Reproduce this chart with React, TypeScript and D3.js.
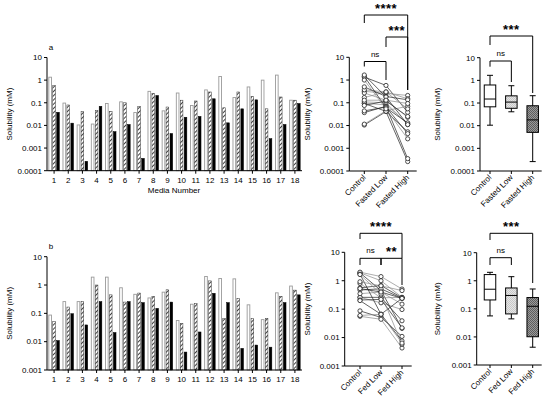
import * as d3 from 'd3';
import { useEffect, useRef } from 'react';

/* ================= DATA ================= */

const media = ['1', '2', '3', '4', '5', '6', '7', '8', '9', '10', '11', '12', '13', '14', '15', '16', '17', '18'];

const fastedControl = [1.35, 0.097, 0.0105, 0.0115, 0.093, 0.11, 0.037, 0.32, 0.044, 0.27, 0.076, 0.37, 1.45, 0.17, 0.5, 1.0, 1.67, 0.13];
const fastedLow = [0.58, 0.08, 0.041, 0.045, 0.042, 0.1, 0.07, 0.26, 0.065, 0.13, 0.12, 0.3, 0.06, 0.3, 0.19, 0.054, 0.18, 0.13];
const fastedHigh = [0.038, 0.0126, 0.00026, 0.07, 0.0053, 0.011, 0.00035, 0.21, 0.0044, 0.023, 0.025, 0.15, 0.013, 0.054, 0.135, 0.0026, 0.011, 0.093];

const fedControl = [0.087, 0.26, 0.26, 1.9, 1.9, 0.8, 0.47, 0.35, 0.56, 0.056, 0.21, 2.0, 1.7, 1.65, 0.2, 0.06, 0.53, 0.92];
const fedLow = [0.051, 0.167, 0.26, 1.0, 0.45, 0.25, 0.52, 0.4, 0.68, 0.044, 0.22, 1.4, 0.066, 0.34, 0.066, 0.066, 0.4, 0.66];
const fedHigh = [0.011, 0.097, 0.039, 0.26, 0.021, 0.26, 0.24, 0.15, 0.25, 0.0043, 0.022, 0.51, 0.24, 0.0058, 0.0076, 0.0064, 0.24, 0.45];

const fastedGroups = ['Control', 'Fasted Low', 'Fasted High'];
const fedGroups = ['Control', 'Fed Low', 'Fed High'];

const ticksA = [10, 1, 0.1, 0.01, 0.001, 0.0001];
const ticksB = [10, 1, 0.1, 0.01, 0.001];

const FONT = 'Liberation Sans, Arial, sans-serif';

// GraphPad style quartile: position (n+1)p
function quart(values: number[], p: number) {
  const s = [...values].sort((a, b) => a - b);
  const n = s.length;
  const pos = (n + 1) * p;
  const lo = Math.floor(pos);
  const frac = pos - lo;
  if (lo < 1) return s[0];
  if (lo >= n) return s[n - 1];
  return s[lo - 1] + frac * (s[lo] - s[lo - 1]);
}

export default function App() {
  const ref = useRef<SVGSVGElement | null>(null);

  useEffect(() => {
    if (!ref.current) return;
    const svg = d3.select(ref.current);
    svg.selectAll('*').remove();

    /* ================= PATTERNS ================= */

    const defs = svg.append('defs');
    const hatch = defs
      .append('pattern')
      .attr('id', 'hatch')
      .attr('patternUnits', 'userSpaceOnUse')
      .attr('width', 3)
      .attr('height', 3)
      .attr('patternTransform', 'rotate(45)');
    hatch.append('rect').attr('width', 3).attr('height', 3).attr('fill', '#fff');
    hatch.append('line').attr('x1', 0).attr('y1', 0).attr('x2', 0).attr('y2', 3).attr('stroke', '#111').attr('stroke-width', 1.6);

    const checker = (id: string, a: string, b: string) => {
      const p = defs
        .append('pattern')
        .attr('id', id)
        .attr('patternUnits', 'userSpaceOnUse')
        .attr('width', 2)
        .attr('height', 2);
      p.append('rect').attr('width', 2).attr('height', 2).attr('fill', a);
      p.append('rect').attr('width', 1).attr('height', 1).attr('fill', b);
      p.append('rect').attr('x', 1).attr('y', 1).attr('width', 1).attr('height', 1).attr('fill', b);
    };
    checker('lightBox', '#e6e6e6', '#c8c8c8');
    checker('darkBox', '#9a9a9a', '#5e5e5e');

    const txt = (g: any, x: number, y: number, s: string, size = 8, anchor = 'middle') =>
      g
        .append('text')
        .attr('x', x)
        .attr('y', y)
        .attr('text-anchor', anchor)
        .attr('font-family', FONT)
        .attr('font-size', size)
        .text(s);

    const yAxis = (x0: number, y: any, ticks: number[], yTitleX: number) => {
      const g = svg.append('g');
      g.append('line')
        .attr('x1', x0).attr('x2', x0)
        .attr('y1', y.range()[0]).attr('y2', y.range()[1])
        .attr('stroke', '#000').attr('stroke-width', 1);
      ticks.forEach((t) => {
        g.append('line')
          .attr('x1', x0 - 3).attr('x2', x0)
          .attr('y1', y(t)).attr('y2', y(t))
          .attr('stroke', '#000').attr('stroke-width', 1);
        txt(g, x0 - 5, y(t) + 2.8, String(t), 8, 'end');
      });
      const cy = (y.range()[0] + y.range()[1]) / 2;
      g.append('text')
        .attr('transform', `translate(${yTitleX},${cy}) rotate(-90)`)
        .attr('text-anchor', 'middle')
        .attr('font-family', FONT)
        .attr('font-size', 8)
        .text('Solubility (mM)');
    };

    /* ================= BAR PANELS ================= */

    const barPanel = (
      y0: number,
      y1: number,
      yDomain: [number, number],
      ticks: number[],
      series: number[][],
      letter: string,
      showTitle: boolean
    ) => {
      const y = d3.scaleLog().domain(yDomain).range([y1, y0]);
      const x = d3.scaleBand().domain(media).range([47, 302]).paddingInner(0.2).paddingOuter(0.1);
      const xs = d3.scaleBand().domain(['c', 'l', 'h']).range([0, x.bandwidth()]).paddingInner(0.12);

      const g = svg.append('g');
      const fills = ['#fff', 'url(#hatch)', '#000'];
      const strokes = ['#9a9a9a', '#333', '#000'];
      const keys = ['c', 'l', 'h'];
      series.forEach((vals, si) => {
        g.selectAll(null)
          .data(vals)
          .enter()
          .append('rect')
          .attr('x', (_d, i) => (x(media[i]) as number) + (xs(keys[si]) as number) + 0.4)
          .attr('y', (d) => y(d))
          .attr('width', xs.bandwidth() - 0.8)
          .attr('height', (d) => y1 - y(d))
          .attr('fill', fills[si])
          .attr('stroke', strokes[si])
          .attr('stroke-width', si === 0 ? 0.9 : 0.5);
      });

      // x axis
      g.append('line').attr('x1', 47).attr('x2', 302).attr('y1', y1).attr('y2', y1).attr('stroke', '#000');
      media.forEach((m) => {
        const cx = (x(m) as number) + x.bandwidth() / 2;
        g.append('line').attr('x1', cx).attr('x2', cx).attr('y1', y1).attr('y2', y1 + 3).attr('stroke', '#000');
        txt(g, cx, y1 + 12, m, 8);
      });
      if (showTitle) txt(g, 174, y1 + 22, 'Media Number', 8);
      txt(g, 51, y0 - 8, letter, 8);

      yAxis(47, y, ticks, 12);
    };

    barPanel(57.5, 170.7, [0.0001, 10], ticksA, [fastedControl, fastedLow, fastedHigh], 'a', true);
    barPanel(256.7, 370, [0.001, 10], ticksB, [fedControl, fedLow, fedHigh], 'b', false);

    /* ================= CATEGORY AXIS ================= */

    const catAxis = (x: any, groups: string[], xStart: number, xEnd: number, yb: number) => {
      const g = svg.append('g');
      g.append('line').attr('x1', xStart).attr('x2', xEnd).attr('y1', yb).attr('y2', yb).attr('stroke', '#000');
      groups.forEach((c) => {
        const cx = x(c);
        g.append('line').attr('x1', cx).attr('x2', cx).attr('y1', yb).attr('y2', yb + 3).attr('stroke', '#000');
        g.append('text')
          .attr('transform', `translate(${cx + 2},${yb + 7}) rotate(-45)`)
          .attr('text-anchor', 'end')
          .attr('font-family', FONT)
          .attr('font-size', 8)
          .text(c);
      });
    };

    /* ================= BRACKETS ================= */

    const bracket = (xa: number, xb: number, yTop: number, dropA: number, dropB: number, label: string, stars: boolean) => {
      const g = svg.append('g');
      g.append('path')
        .attr('d', `M${xa},${dropA}V${yTop}H${xb}V${dropB}`)
        .attr('fill', 'none')
        .attr('stroke', '#000')
        .attr('stroke-width', 1);
      g.append('text')
        .attr('x', (xa + xb) / 2)
        .attr('y', stars ? yTop - 2 : yTop - 5)
        .attr('text-anchor', 'middle')
        .attr('font-family', FONT)
        .attr('font-size', stars ? 13 : 8)
        .attr('font-weight', stars ? 'bold' : 'normal')
        .attr('letter-spacing', stars ? 0.5 : 0)
        .text(label);
    };

    /* ================= PAIRED PANELS ================= */

    const pairedPanel = (
      axisX: number,
      xEnd: number,
      cats: [number, number],
      y0: number,
      y1: number,
      yDomain: [number, number],
      ticks: number[],
      groups: string[],
      series: number[][]
    ) => {
      const y = d3.scaleLog().domain(yDomain).range([y1, y0]);
      const x = d3.scalePoint().domain(groups).range(cats);
      const g = svg.append('g');
      const line = d3
        .line<[string, number]>()
        .x((d) => x(d[0]) as number)
        .y((d) => y(d[1]));
      media.forEach((_m, i) => {
        const pts: [string, number][] = groups.map((c, gi) => [c, series[gi][i]]);
        g.append('path')
          .attr('d', line(pts))
          .attr('fill', 'none')
          .attr('stroke', i % 2 === 0 ? '#222' : '#8a8a8a')
          .attr('stroke-width', 0.7);
      });
      groups.forEach((c, gi) => {
        g.selectAll(null)
          .data(series[gi])
          .enter()
          .append('circle')
          .attr('cx', x(c) as number)
          .attr('cy', (d) => y(d))
          .attr('r', 2.1)
          .attr('fill', '#fff')
          .attr('stroke', '#222')
          .attr('stroke-width', 0.8);
      });
      yAxis(axisX, y, ticks, 310);
      catAxis(x, groups, axisX, xEnd, y1);
      return x;
    };

    const pa = pairedPanel(349.3, 416.7, [364.3, 407.7], 57.3, 171, [0.0001, 10], ticksA, fastedGroups, [fastedControl, fastedLow, fastedHigh]);
    bracket(pa('Control') as number, pa('Fasted Low') as number, 61.5, 66.5, 80, 'ns', false);
    bracket(pa('Fasted Low') as number, pa('Fasted High') as number, 37, 47, 90, '***', true);
    bracket(pa('Control') as number, pa('Fasted High') as number, 15, 23, 90, '****', true);

    const pb = pairedPanel(344.7, 411.7, [360, 402], 252.3, 366, [0.001, 10], ticksB, fedGroups, [fedControl, fedLow, fedHigh]);
    bracket(pb('Control') as number, pb('Fed Low') as number, 258.3, 265, 265, 'ns', false);
    bracket(pb('Fed Low') as number, pb('Fed High') as number, 258.3, 265, 285, '**', true);
    bracket(pb('Control') as number, pb('Fed High') as number, 233.3, 239, 258.3, '****', true);

    /* ================= BOX PANELS ================= */

    const boxPanel = (
      axisX: number,
      cats: [number, number],
      y0: number,
      y1: number,
      yDomain: [number, number],
      ticks: number[],
      groups: string[],
      series: number[][]
    ) => {
      const y = d3.scaleLog().domain(yDomain).range([y1, y0]);
      const x = d3.scalePoint().domain(groups).range(cats);
      const g = svg.append('g');
      const fills = ['#fff', 'url(#lightBox)', 'url(#darkBox)'];
      const bw = 11.5;
      groups.forEach((c, gi) => {
        const vals = series[gi];
        const cx = x(c) as number;
        const q1 = quart(vals, 0.25);
        const med = quart(vals, 0.5);
        const q3 = quart(vals, 0.75);
        const lo = d3.min(vals) as number;
        const hi = d3.max(vals) as number;
        g.append('line').attr('x1', cx).attr('x2', cx).attr('y1', y(hi)).attr('y2', y(lo)).attr('stroke', '#000');
        [lo, hi].forEach((v) =>
          g.append('line').attr('x1', cx - 3).attr('x2', cx + 3).attr('y1', y(v)).attr('y2', y(v)).attr('stroke', '#000')
        );
        g.append('rect')
          .attr('x', cx - bw / 2)
          .attr('y', y(q3))
          .attr('width', bw)
          .attr('height', y(q1) - y(q3))
          .attr('fill', fills[gi])
          .attr('stroke', '#000')
          .attr('stroke-width', 1);
        g.append('line')
          .attr('x1', cx - bw / 2).attr('x2', cx + bw / 2)
          .attr('y1', y(med)).attr('y2', y(med))
          .attr('stroke', '#000').attr('stroke-width', 1);
      });
      yAxis(axisX, y, ticks, 440);
      catAxis(x, groups, axisX, 541.7, y1);
      return x;
    };

    const ba = boxPanel(480, [490, 532.7], 57.7, 171, [0.0001, 10], ticksA, fastedGroups, [fastedControl, fastedLow, fastedHigh]);
    bracket(ba('Control') as number, ba('Fasted Low') as number, 61, 66.7, 82, 'ns', false);
    bracket(ba('Control') as number, ba('Fasted High') as number, 36, 45, 93, '***', true);

    const bb = boxPanel(476.7, [490, 532.7], 252.7, 365, [0.001, 10], ticksB, fedGroups, [fedControl, fedLow, fedHigh]);
    bracket(bb('Control') as number, bb('Fed Low') as number, 257.7, 265, 265, 'ns', false);
    bracket(bb('Control') as number, bb('Fed High') as number, 233.3, 240, 283, '***', true);
  }, []);

  return (
    <svg
      ref={ref}
      width={550}
      height={404}
      style={{ position: 'absolute', left: 0, top: 0, background: '#fff' }}
    />
  );
}
